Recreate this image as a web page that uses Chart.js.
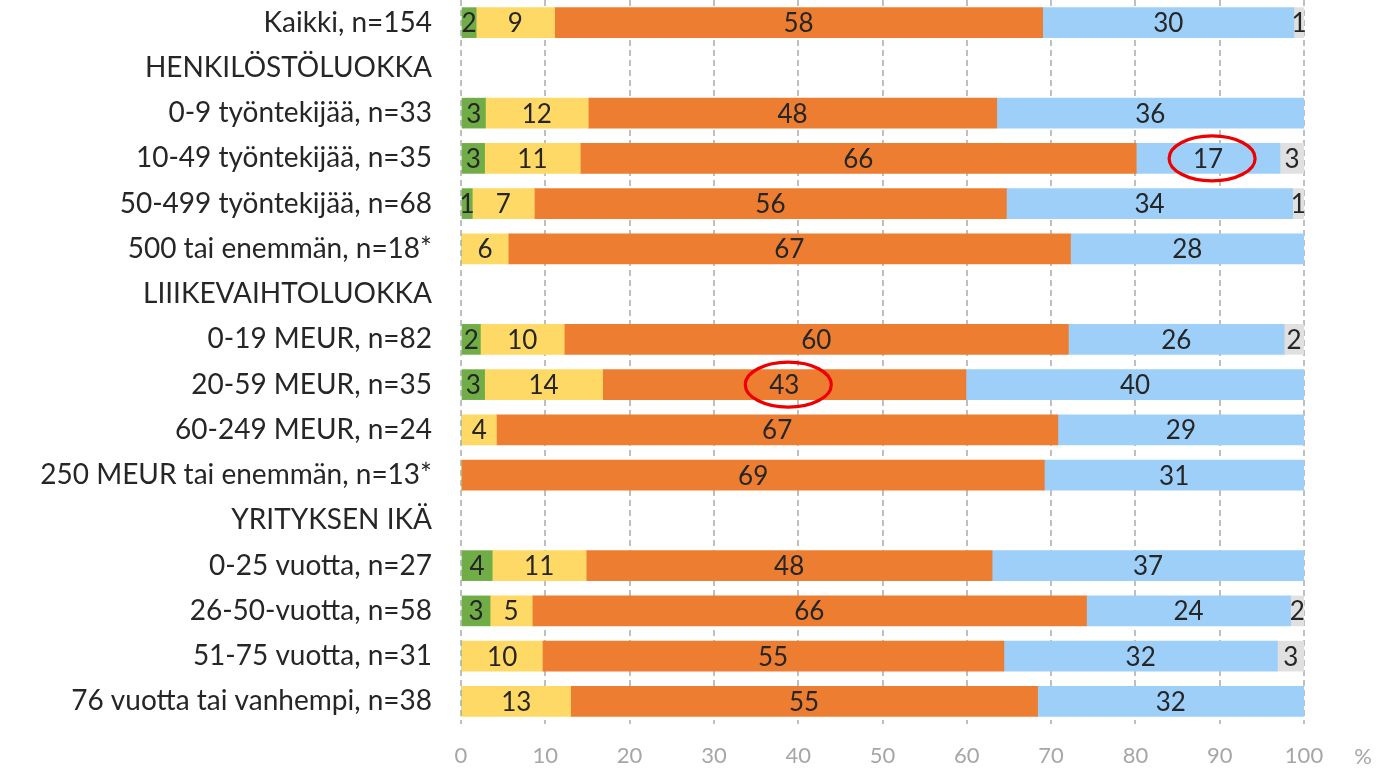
<!DOCTYPE html>
<html>
<head>
<meta charset="utf-8">
<script src="https://cdn.jsdelivr.net/npm/chart.js@4.4.0/dist/chart.umd.min.js"></script>
<style>
    html, body { margin: 0; padding: 0; background: #ffffff; }
    #wrap { position: relative; width: 1396px; height: 771px; }
</style>
</head>
<body>
<div id="wrap"><canvas id="chart"></canvas></div>
<script>
    // rivit (otsikkorivit ilman palkkeja)
    var categories = [
        'Kaikki, n=154',
        'HENKILÖSTÖLUOKKA',
        '0-9 työntekijää, n=33',
        '10-49 työntekijää, n=35',
        '50-499 työntekijää, n=68',
        '500 tai enemmän, n=18*',
        'LIIIKEVAIHTOLUOKKA',
        '0-19 MEUR, n=82',
        '20-59 MEUR, n=35',
        '60-249 MEUR, n=24',
        '250 MEUR tai enemmän, n=13*',
        'YRITYKSEN IKÄ',
        '0-25 vuotta, n=27',
        '26-50-vuotta, n=58',
        '51-75 vuotta, n=31',
        '76 vuotta tai vanhempi, n=38'
    ];

    // osuudet % (luettu kuvasta, näytetään pyöristettynä)
    var greenValues  = [1.8, null, 2.9, 2.8, 1.34, 0, null, 2.3, 2.8, 0, 0, null, 3.7, 3.45, 0, 0];
    var yellowValues = [9.3, null, 12.2, 11.35, 7.36, 5.6, null, 9.95, 14.0, 4.2, 0, null, 11.15, 5.0, 9.65, 13.0];
    var orangeValues = [57.9, null, 48.45, 65.95, 56.0, 66.7, null, 59.8, 43.1, 66.6, 69.2, null, 48.15, 65.75, 54.75, 55.4];
    var blueValues   = [29.8, null, 36.45, 17.05, 33.95, 27.7, null, 25.6, 40.1, 29.2, 30.8, null, 37.0, 24.2, 32.45, 31.6];
    var grayValues   = [1.2, null, 0, 2.85, 1.35, 0, null, 2.35, 0, 0, 0, null, 0, 1.6, 3.15, 0];

    var xTicks = [0, 10, 20, 30, 40, 50, 60, 70, 80, 90, 100];

    // korostetut arvot (punainen ellipsi)
    var highlights = [
        { row: 3, dataset: 3 },
        { row: 8, dataset: 2 }
    ];

    var FONT = 'Lato, "Open Sans", sans-serif';
    var TEXT = '#262626';

    var valueLabels = {
        id: 'valueLabels',
        afterDatasetsDraw: function (chart) {
            var ctx = chart.ctx;
            ctx.save();
            ctx.font = '26px ' + FONT;
            ctx.fillStyle = TEXT;
            ctx.textAlign = 'center';
            ctx.textBaseline = 'middle';
            chart.data.datasets.forEach(function (ds, di) {
                var meta = chart.getDatasetMeta(di);
                meta.data.forEach(function (el, i) {
                    var v = ds.data[i];
                    if (v === null || v === undefined || v <= 0) return;
                    var cx = (el.x + el.base) / 2;
                    ctx.fillText(String(Math.round(v)), cx, el.y + 1);
                });
            });
            ctx.restore();
        }
    };

    var rings = {
        id: 'rings',
        afterDraw: function (chart) {
            var ctx = chart.ctx;
            ctx.save();
            ctx.strokeStyle = '#ee0000';
            ctx.lineWidth = 3.2;
            highlights.forEach(function (h) {
                var el = chart.getDatasetMeta(h.dataset).data[h.row];
                var cx = (el.x + el.base) / 2 + 4;
                ctx.beginPath();
                ctx.ellipse(cx, el.y, 43, 22.5, 0, 0, Math.PI * 2);
                ctx.stroke();
            });
            // %-merkki akselin perään
            ctx.font = '22px ' + FONT;
            ctx.fillStyle = '#a6a6a6';
            ctx.textAlign = 'center';
            ctx.textBaseline = 'middle';
            ctx.fillText('%', 1363, 757);
            ctx.restore();
        }
    };

    function makeSet(label, values, color) {
        return {
            label: label,
            data: values,
            backgroundColor: color,
            borderWidth: 0,
            barThickness: 30
        };
    }

    new Chart(document.getElementById('chart'), {
        type: 'bar',
        data: {
            labels: categories,
            datasets: [
                makeSet('green', greenValues, '#70ad47'),
                makeSet('yellow', yellowValues, '#ffd966'),
                makeSet('orange', orangeValues, '#ed7d31'),
                makeSet('blue', blueValues, '#9dcff8'),
                makeSet('gray', grayValues, '#e0e0e0')
            ]
        },
        options: {
            indexAxis: 'y',
            responsive: true,
            maintainAspectRatio: false,
            animation: false,
            layout: { padding: { top: 0, right: 92, bottom: 0, left: 0 } },
            plugins: {
                legend: { display: false },
                tooltip: { enabled: false }
            },
            scales: {
                x: {
                    stacked: true,
                    min: 0,
                    max: 100,
                    afterBuildTicks: function (scale) {
                        scale.ticks = xTicks.map(function (v) { return { value: v }; });
                    },
                    afterFit: function (scale) {
                        scale.height = 47;
                        scale.paddingTop = 0;
                        scale.paddingBottom = 0;
                    },
                    grid: {
                        color: '#bfbfbf',
                        lineWidth: 2,
                        drawTicks: false,
                        tickBorderDash: [6, 4]
                    },
                    border: { display: false, dash: [6, 4] },
                    ticks: {
                        color: '#a6a6a6',
                        font: { family: FONT, size: 22 },
                        padding: 19,
                        maxRotation: 0
                    }
                },
                y: {
                    stacked: true,
                    grid: { display: false, drawTicks: false },
                    border: { display: false },
                    afterFit: function (scale) {
                        scale.width = 461;
                        scale.paddingTop = 0;
                        scale.paddingBottom = 0;
                    },
                    ticks: {
                        color: TEXT,
                        font: { family: FONT, size: 28 },
                        padding: 29,
                        autoSkip: false
                    }
                }
            }
        },
        plugins: [valueLabels, rings]
    });
</script>
</body>
</html>
